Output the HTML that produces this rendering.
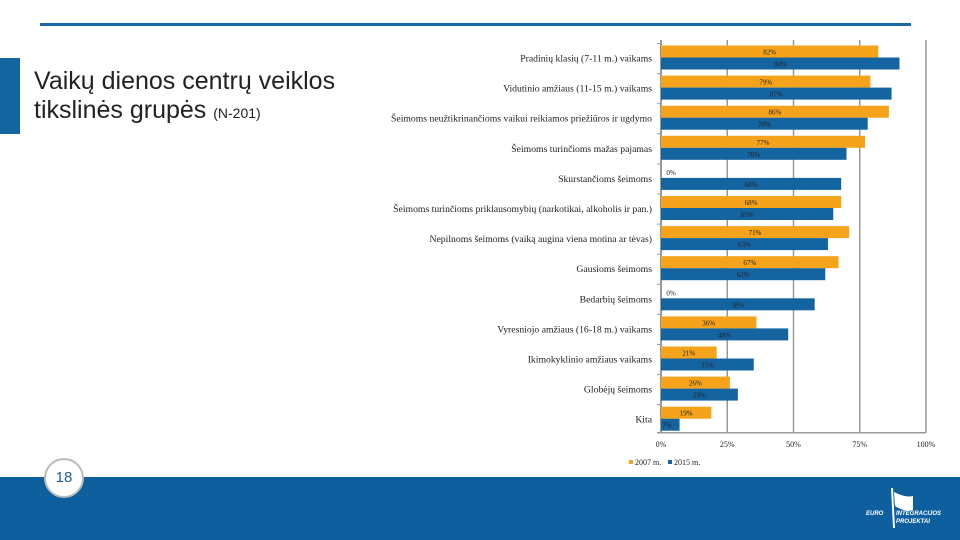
<!DOCTYPE html>
<html><head><meta charset="utf-8">
<style>
body{margin:0;width:960px;height:540px;position:relative;background:#fff;overflow:hidden;font-family:"Liberation Serif",serif}
.abs{position:absolute}
</style></head>
<body>
<div class="abs" style="left:40px;top:23px;width:871px;height:3px;background:#1a6aa8"></div>
<div class="abs" style="left:0;top:58px;width:20px;height:76px;background:#1464a0"></div>
<div class="abs" style="left:34px;top:67px;font-family:'Liberation Sans',sans-serif;font-size:25px;line-height:29px;color:#222">Vaikų dienos centrų veiklos<br>tikslinės grupės <span style="font-size:14px">(N-201)</span></div>
<div class="abs" style="left:0;top:477px;width:960px;height:63px;background:#0d5f9e"></div>
<div class="abs" style="left:44px;top:458px;width:36px;height:36px;border-radius:50%;background:#fff;border:2px solid #bbb;text-align:center;line-height:36px;font-family:'Liberation Sans',sans-serif;font-size:15px;color:#1a5f99">18</div>
<div class="abs" style="left:866px;top:488px;width:80px;height:44px;color:#fff;font-family:'Liberation Sans',sans-serif;font-weight:bold;font-style:italic;font-size:6px">
<svg width="80" height="44" style="position:absolute;left:0;top:0"><path d="M26 0 L28 40" stroke="#fff" stroke-width="2"/><path d="M28 4 Q40 10 47 8 L47 22 Q38 24 29 18Z" fill="#fff"/></svg>
<div style="position:absolute;left:0;top:23px">EURO</div><div style="position:absolute;left:30px;top:23px">INTEGRACIJOS</div><div style="position:absolute;left:30px;top:31px">PROJEKTAI</div></div>
<svg class="abs" style="left:0;top:0" width="960" height="540" id="chart"></svg>
<script>
const categories=["Pradinių klasių (7-11 m.) vaikams","Vidutinio amžiaus (11-15 m.) vaikams","Šeimoms neužtikrinančioms vaikui reikiamos priežiūros ir ugdymo","Šeimoms turinčioms mažas pajamas","Skurstančioms šeimoms","Šeimoms turinčioms priklausomybių (narkotikai, alkoholis ir pan.)","Nepilnoms šeimoms (vaiką augina viena motina ar tėvas)","Gausioms šeimoms","Bedarbių šeimoms","Vyresniojo amžiaus (16-18 m.) vaikams","Ikimokyklinio amžiaus vaikams","Globėjų šeimoms","Kita"];
const values2007=[82,79,86,77,0,68,71,67,0,36,21,26,19];
const values2015=[90,87,78,70,68,65,63,62,58,48,35,29,7];
const ticks=[0,25,50,75,100];
const seriesNames=["2007 m.","2015 m."];
const svg=document.getElementById('chart');
const NS='http://www.w3.org/2000/svg';
const x0=661,x1=926,top0=45.5,pitch=30.1,bh=12;
const xs=v=>x0+(x1-x0)*v/100;
function mk(t,a,name,txt){const e=document.createElementNS(NS,t);for(const k in a)e.setAttribute(k,a[k]);


if(txt!==undefined)e.textContent=txt;svg.appendChild(e);return e;}
const yBottom=top0+categories.length*pitch-4;
ticks.forEach(t=>{
mk('line',{x1:xs(t),x2:xs(t),y1:40,y2:yBottom,stroke:'#999','stroke-width':t===0?2:1.5},'gridline-'+t);
mk('text',{x:xs(t),y:447,'font-size':8,'text-anchor':'middle',fill:'#222'},'x-tick-'+t,t+'%');
});
mk('line',{x1:x0-4,x2:x1,y1:yBottom,y2:yBottom,stroke:'#999','stroke-width':1.5},'x-axis');
categories.forEach((c,i)=>{
const y=top0+i*pitch;
mk('line',{x1:x0-4,x2:x0,y1:y-2,y2:y-2,stroke:'#999'},'y-tick');
mk('text',{x:652,y:y+16,'font-size':9.7,'text-anchor':'end',fill:'#222'},'category-label',c);
const a=values2007[i],b=values2015[i];
mk('rect',{x:x0,y:y,width:xs(a)-x0,height:bh,fill:'#f5a31a'},'bar-2007');
mk('rect',{x:x0,y:y+bh,width:xs(b)-x0,height:bh,fill:'#1464a0'},'bar-2015');
const lx=a<5?x0+10:x0+(xs(a)-x0)/2;
mk('text',{x:lx,y:y+9,'font-size':7,'text-anchor':'middle',fill:'#222'},'value-2007',a+'%');
const lx2=b<12?x0+6:x0+(xs(b)-x0)/2;
mk('text',{x:lx2,y:y+bh+9,'font-size':7,'text-anchor':'middle',fill:'#222'},'value-2015',b+'%');
});
mk('rect',{x:629,y:460,width:4,height:4,fill:'#f5a31a'},'legend-swatch-2007');
mk('text',{x:635,y:465,'font-size':8,fill:'#222'},'legend-2007',seriesNames[0]);
mk('rect',{x:668,y:460,width:4,height:4,fill:'#1464a0'},'legend-swatch-2015');
mk('text',{x:674,y:465,'font-size':8,fill:'#222'},'legend-2015',seriesNames[1]);
</script>
</body></html>
